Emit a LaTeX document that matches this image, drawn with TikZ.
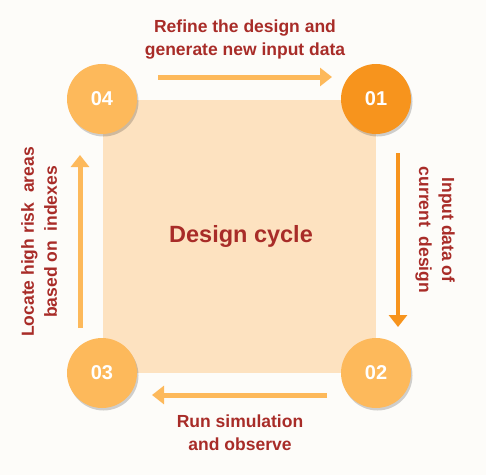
\documentclass[tikz,border=0pt]{standalone}
\usepackage{fontspec}
\setmainfont{Liberation Sans}
\definecolor{pagebg}{RGB}{253, 252, 249}
\definecolor{corefill}{RGB}{253, 226, 192}
\definecolor{lightorange}{RGB}{253, 185, 91}
\definecolor{deeporange}{RGB}{247, 148, 29}
\definecolor{labelred}{RGB}{168, 44, 40}
\usetikzlibrary{arrows.meta,positioning,shadows}

\begin{document}
\begin{tikzpicture}[x=1pt, y=1pt, thick,
    every node/.style={font=\bfseries\fontsize{17.5}{23}\selectfont},
    step circle/.style={circle, fill=lightorange, minimum size=70pt, inner sep=0pt, text=white,
        font=\bfseries\fontsize{20}{24}\selectfont,
        drop shadow={shadow xshift=1.5pt, shadow yshift=-2.5pt, opacity=0.18, fill=black}},
    flow/.style={-{Triangle[length=12pt, width=18pt]}, line width=5pt, draw=lightorange},
    steplabel/.style={text=labelred, align=center}]
    \fill[pagebg] (0,0) rectangle (486,475);
    \useasboundingbox (0,0) rectangle (486,475);

    \node[fill=corefill, minimum size=273pt, inner sep=0pt] (core) at (239.5,238.5) {};
    \node[text=labelred, font=\bfseries\fontsize{23.5}{28}\selectfont] at (241,239) {Design cycle};

    \node[step circle, fill=deeporange] (c1) at (376,376) {01};
    \node[step circle] (c2) at (376,102) {02};
    \node[step circle] (c3) at (102,102) {03};
    \node[step circle] (c4) at (102,376) {04};

    % arrows round the square
    \draw[flow] ([shift={(56pt,22pt)}]c4.center) -- ([shift={(-44pt,22pt)}]c1.center);
    \draw[flow, draw=deeporange, line width=4pt] ([shift={(22pt,-54pt)}]c1.center) -- ([shift={(22pt,46pt)}]c2.center);
    \draw[flow] ([shift={(-49pt,-22pt)}]c2.center) -- ([shift={(50pt,-22pt)}]c3.center);
    \draw[flow] ([shift={(-22pt,45pt)}]c3.center) -- ([shift={(-22pt,-56pt)}]c4.center);

    \node[steplabel] (l1) at (245,435) {Refine the design and\\generate new input data};
    \node[steplabel, rotate=-90] (l2) at (435,245) {Input data of\\current\ \ design};
    \node[steplabel] (l3) at (240,42) {Run simulation\\and observe};
    \node[steplabel, rotate=90] (l4) at (39,233) {Locate high risk\ \ areas\\based on\ \ indexes};
\end{tikzpicture}
\end{document}
